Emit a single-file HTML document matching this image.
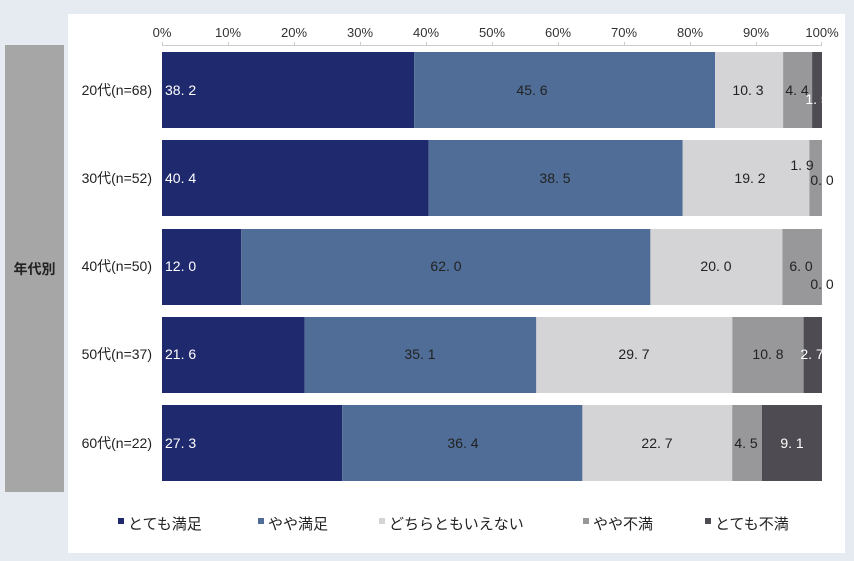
<!DOCTYPE html>
<html><head><meta charset="utf-8"><style>
body{margin:0;background:#e6ebf1;}
svg{display:block;font-family:"Liberation Sans Narrow","Liberation Sans","Noto Sans CJK JP",sans-serif;}
</style></head><body>
<svg width="854" height="561" viewBox="0 0 854 561">
<rect x="0" y="0" width="854" height="561" fill="#e6ebf1"/>
<rect x="68" y="14" width="777" height="539" fill="#ffffff"/>
<rect x="5" y="45" width="59" height="447" fill="#a6a6a6"/>
<text x="34.5" y="274" font-size="14" font-weight="bold" text-anchor="middle" fill="#222">年代別</text>
<g font-size="13" fill="#333" text-anchor="middle">
<text x="162" y="37">0%</text><text x="228" y="37">10%</text><text x="294" y="37">20%</text><text x="360" y="37">30%</text><text x="426" y="37">40%</text><text x="492" y="37">50%</text><text x="558" y="37">60%</text><text x="624" y="37">70%</text><text x="690" y="37">80%</text><text x="756" y="37">90%</text><text x="822" y="37">100%</text>
</g>
<g stroke="#cccccc" stroke-width="1">
<line x1="162" y1="45.5" x2="822" y2="45.5"/>
<line x1="162.5" y1="42" x2="162.5" y2="46"/><line x1="228.5" y1="42" x2="228.5" y2="46"/><line x1="294.5" y1="42" x2="294.5" y2="46"/><line x1="360.5" y1="42" x2="360.5" y2="46"/><line x1="426.5" y1="42" x2="426.5" y2="46"/><line x1="492.5" y1="42" x2="492.5" y2="46"/><line x1="558.5" y1="42" x2="558.5" y2="46"/><line x1="624.5" y1="42" x2="624.5" y2="46"/><line x1="690.5" y1="42" x2="690.5" y2="46"/><line x1="756.5" y1="42" x2="756.5" y2="46"/><line x1="821.5" y1="42" x2="821.5" y2="46"/>
</g>
<g font-size="14" fill="#222" text-anchor="end">
<text x="152" y="95">20代(n=68)</text>
<text x="152" y="183">30代(n=52)</text>
<text x="152" y="271">40代(n=50)</text>
<text x="152" y="359">50代(n=37)</text>
<text x="152" y="448">60代(n=22)</text>
</g>
<rect x="162" y="52" width="252.1" height="76" fill="#1f2a6e"/>
<rect x="414.1" y="52" width="301" height="76" fill="#4f6d96"/>
<rect x="715.1" y="52" width="68" height="76" fill="#d4d4d7"/>
<rect x="783.1" y="52" width="29" height="76" fill="#98989b"/>
<rect x="812.1" y="52" width="9.9" height="76" fill="#4e4c52"/>
<rect x="162" y="140" width="266.6" height="76" fill="#1f2a6e"/>
<rect x="428.6" y="140" width="254.1" height="76" fill="#4f6d96"/>
<rect x="682.7" y="140" width="126.7" height="76" fill="#d4d4d7"/>
<rect x="809.4" y="140" width="12.6" height="76" fill="#98989b"/>
<rect x="162" y="229" width="79.2" height="76" fill="#1f2a6e"/>
<rect x="241.2" y="229" width="409.2" height="76" fill="#4f6d96"/>
<rect x="650.4" y="229" width="132" height="76" fill="#d4d4d7"/>
<rect x="782.4" y="229" width="39.6" height="76" fill="#98989b"/>
<rect x="162" y="317" width="142.6" height="76" fill="#1f2a6e"/>
<rect x="304.6" y="317" width="231.7" height="76" fill="#4f6d96"/>
<rect x="536.3" y="317" width="196" height="76" fill="#d4d4d7"/>
<rect x="732.3" y="317" width="71.3" height="76" fill="#98989b"/>
<rect x="803.6" y="317" width="18.4" height="76" fill="#4e4c52"/>
<rect x="162" y="405" width="180.2" height="76" fill="#1f2a6e"/>
<rect x="342.2" y="405" width="240.2" height="76" fill="#4f6d96"/>
<rect x="582.4" y="405" width="149.8" height="76" fill="#d4d4d7"/>
<rect x="732.2" y="405" width="29.7" height="76" fill="#98989b"/>
<rect x="761.9" y="405" width="60.1" height="76" fill="#4e4c52"/>
<g font-size="14" text-anchor="start" fill="#fff">
<text x="165" y="95">38. 2</text><text x="165" y="183">40. 4</text><text x="165" y="271">12. 0</text><text x="165" y="359">21. 6</text><text x="165" y="448">27. 3</text>
</g>
<g font-size="14" text-anchor="middle" fill="#222">
<text x="532" y="95">45. 6</text><text x="748" y="95">10. 3</text><text x="797" y="95">4. 4</text>
<text x="555" y="183">38. 5</text><text x="750" y="183">19. 2</text><text x="802" y="170">1. 9</text><text x="822" y="185">0. 0</text>
<text x="446" y="271">62. 0</text><text x="716" y="271">20. 0</text><text x="801" y="271">6. 0</text><text x="822" y="289">0. 0</text>
<text x="420" y="359">35. 1</text><text x="634" y="359">29. 7</text><text x="768" y="359">10. 8</text>
<text x="463" y="448">36. 4</text><text x="657" y="448">22. 7</text><text x="746" y="448">4. 5</text>
</g>
<g font-size="14" text-anchor="middle" fill="#fff">
<text x="817" y="104">1. 5</text><text x="812" y="359">2. 7</text><text x="792" y="448">9. 1</text>
</g>
<g font-size="15" fill="#222">
<rect x="118" y="518" width="6" height="6" fill="#1f2a6e"/><text x="128" y="529">とても満足</text>
<rect x="258" y="518" width="6" height="6" fill="#4f6d96"/><text x="268" y="529">やや満足</text>
<rect x="379" y="518" width="6" height="6" fill="#d4d4d7"/><text x="389" y="529">どちらともいえない</text>
<rect x="583" y="518" width="6" height="6" fill="#98989b"/><text x="593" y="529">やや不満</text>
<rect x="705" y="518" width="6" height="6" fill="#4e4c52"/><text x="715" y="529">とても不満</text>
</g>
</svg>
</body></html>
